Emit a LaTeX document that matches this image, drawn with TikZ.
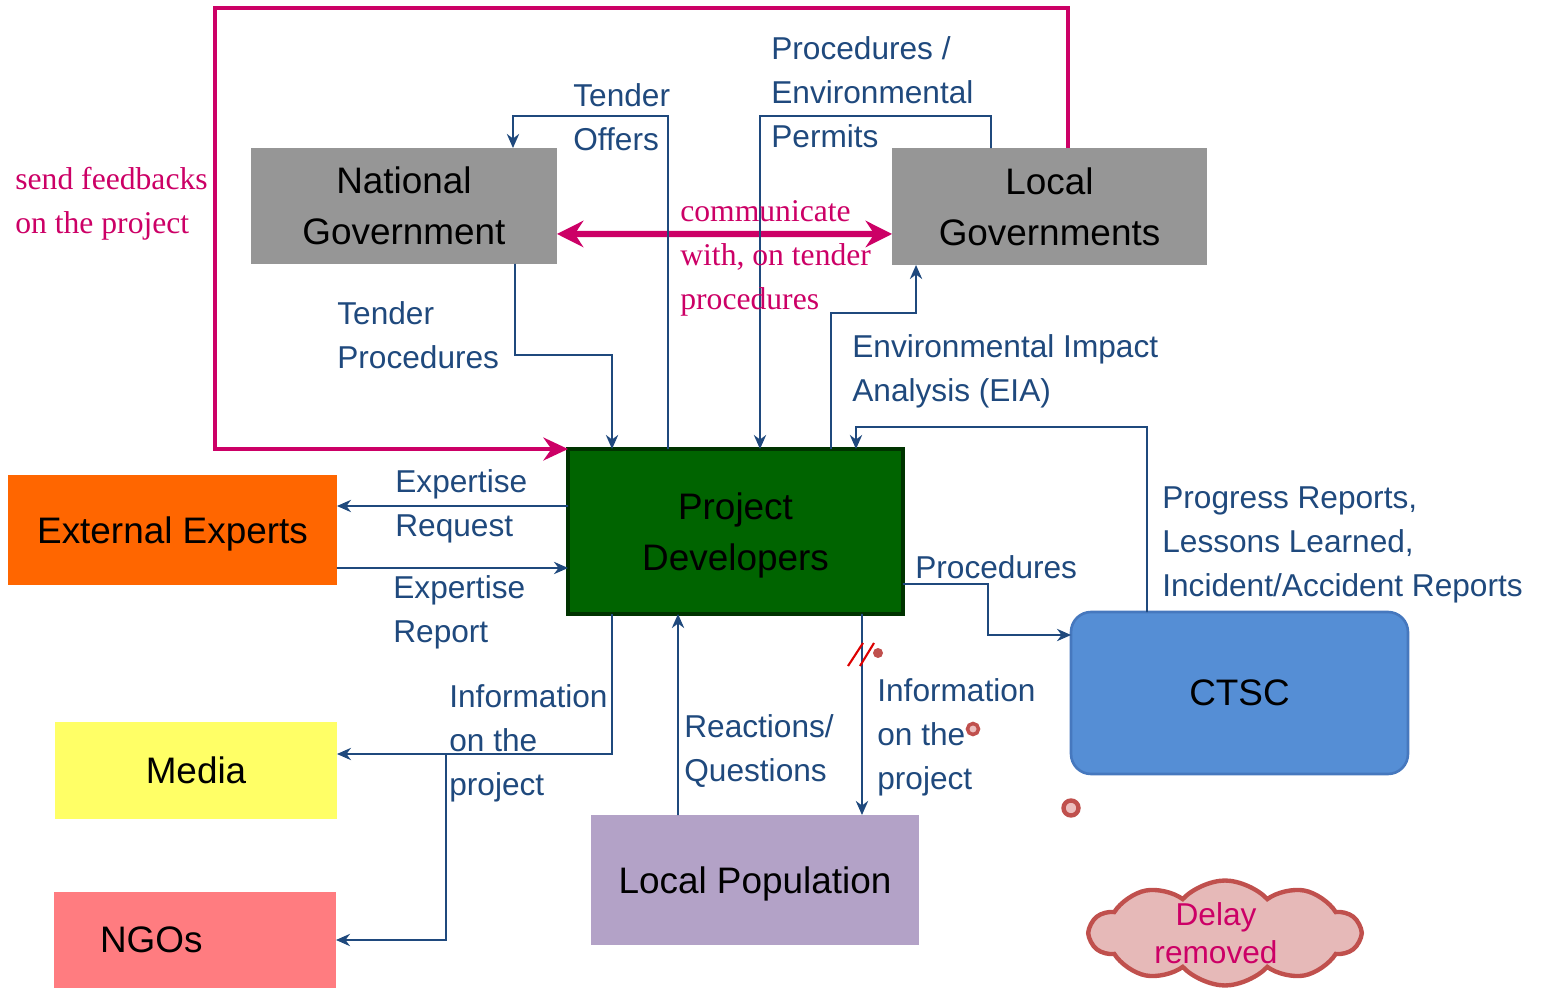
\documentclass[tikz,border=0pt]{standalone}
\usepackage{fontspec}
\setmainfont{Liberation Sans}
\newfontfamily\serifred{Liberation Serif}
\usepackage{tikz}
\usetikzlibrary{arrows.meta,shapes.symbols}

\definecolor{lineblue}{RGB}{31,73,125}
\definecolor{fbred}{RGB}{204,0,102}
\definecolor{govgray}{RGB}{150,150,150}
\definecolor{pdgreen}{RGB}{0,100,0}
\definecolor{pdedge}{RGB}{0,51,0}
\definecolor{eeorange}{RGB}{255,102,0}
\definecolor{mediayellow}{RGB}{255,255,102}
\definecolor{ngopink}{RGB}{255,124,128}
\definecolor{lplilac}{RGB}{179,162,199}
\definecolor{ctscblue}{RGB}{85,142,213}
\definecolor{ctscedge}{RGB}{70,120,190}
\definecolor{cloudfill}{RGB}{230,185,184}
\definecolor{cloudedge}{RGB}{192,80,77}
\definecolor{markred}{RGB}{220,0,0}
\definecolor{ringfill}{RGB}{236,190,190}

\tikzset{
	box/.style={rectangle, inner sep=0pt, outer sep=0pt, text depth=0pt, align=center, font=\fontsize{21}{29}\selectfont},
	flow/.style={draw=lineblue, line width=1.1pt, -{Stealth[length=8pt,width=7pt]}},
	fb/.style={draw=fbred, line width=2.8pt},
	lbl/.style={anchor=west, inner sep=0pt, yshift=-0.06cm, align=left, text=lineblue, font=\fontsize{18}{25}\selectfont},
	redlbl/.style={anchor=west, inner sep=0pt, yshift=-0.07cm, align=left, text=fbred, font=\serifred\fontsize{18}{25}\selectfont}
}

\begin{document}
\begin{tikzpicture}[x=0.02cm, y=-0.02cm]
	\useasboundingbox (0,0) rectangle (1542,989);

	% Boxes
	\node[box, fill=govgray, minimum width=6.12cm, minimum height=2.32cm] (ng) at (404,206) {National\\Government};
	\node[box, fill=govgray, minimum width=6.3cm, minimum height=2.34cm] (lg) at (1049.5,206.5) {Local\\Governments};
	\node[box, fill=pdgreen, draw=pdedge, line width=2pt, minimum width=6.7cm, minimum height=3.3cm] (pd) at (735.5,531.5) {Project\\Developers};
	\node[box, fill=eeorange, minimum width=6.58cm, minimum height=2.2cm] (ee) at (172.5,530) {External Experts};
	\node[box, fill=mediayellow, minimum width=5.64cm, minimum height=1.94cm] (media) at (196,770.5) {Media};
	\node[box, fill=ngopink, minimum height=1.92cm, text width=3.8cm, inner xsep=0.92cm, align=left] (ngo) at (195,940) {NGOs};
	\node[box, fill=lplilac, minimum width=6.56cm, minimum height=2.6cm] (lp) at (755,880) {Local Population};
	\node[box, fill=ctscblue, draw=ctscedge, line width=1.5pt, rounded corners=0.4cm, minimum width=6.74cm, minimum height=3.24cm] (ctsc) at (1239.5,693) {CTSC};

	% Feedback loop and communication
	\draw[fb, -{Stealth[length=14pt,width=13pt]}] ([xshift=3.52cm]lg.north west) |- (215,8) |- (pd.north west);
	\draw[fb, line width=3.5pt, {Stealth[length=15pt,width=15pt]}-{Stealth[length=15pt,width=15pt]}] ([yshift=-0.56cm]ng.east) -- ([yshift=-0.55cm]lg.west);

	% Flows
	\draw[flow] ([xshift=2cm]pd.north west) |- (513,116) -- ([xshift=5.24cm]ng.north west);
	\draw[flow] ([xshift=1.98cm]lg.north west) |- (760,116) -- ([xshift=3.84cm]pd.north west);
	\draw[flow] ([xshift=5.28cm]ng.south west) |- (612,355) -- ([xshift=0.88cm]pd.north west);
	\draw[flow] ([xshift=5.26cm]pd.north west) |- (916,313) -- ([xshift=0.48cm]lg.south west);
	\draw[flow] ([xshift=1.52cm]ctsc.north west) |- (856,427) -- ([xshift=5.76cm]pd.north west);
	\draw[flow] ([yshift=0.51cm]pd.west) -- ([yshift=0.48cm]ee.east);
	\draw[flow] ([yshift=-0.76cm]ee.east) -- ([yshift=-0.73cm]pd.west);
	\draw[flow] ([yshift=-1.05cm]pd.east) -| (988,635) -- ([yshift=1.16cm]ctsc.west);
	\draw[flow] ([xshift=0.88cm]pd.south west) |- ([yshift=0.33cm]media.east);
	\coordinate (split) at (446,754);
	\draw[flow] (split) |- (ngo.east);
	\draw[flow] ([xshift=1.74cm]lp.north west) -- ([xshift=2.2cm]pd.south west);
	\draw[flow] ([xshift=5.88cm]pd.south west) -- ([xshift=5.42cm]lp.north west);

	% Labels
	\node[lbl] (offers) at (573,114) {Tender\\Offers};
	\node[lbl] (permits) at (771,89.5) {Procedures /\\Environmental\\Permits};
	\node[lbl] (tproc) at (337,332) {Tender\\Procedures};
	\node[lbl] (eia) at (852,368) {Environmental Impact\\Analysis (EIA)};
	\node[lbl] (reports) at (1162,542) {Progress Reports,\\Lessons Learned,\\Incident/Accident Reports};
	\node[lbl] (request) at (395,503) {Expertise\\Request};
	\node[lbl] (report) at (393,609) {Expertise\\Report};
	\node[lbl] (procs) at (915,564) {Procedures};
	\node[lbl] (infomedia) at (449,740) {Information\\on the\\project};
	\node[lbl] (reactions) at (684,748) {Reactions/\\Questions};
	\node[lbl] (infolp) at (877,734) {Information\\on the\\project};
	\node[redlbl] (feedback) at (15,200) {send feedbacks\\on the project};
	\node[redlbl] (communicate) at (680,255) {communicate\\with, on tender\\procedures};

	% Edit marks
	\draw[markred, line width=1.2pt] (848,666) -- (863,643);
	\draw[markred, line width=1.2pt] (860,666) -- (874,643);
	\fill[cloudedge] (878,653) circle (0.1cm);
	\draw[cloudedge, line width=2pt, fill=ringfill] (973,729) circle (0.11cm);
	\draw[cloudedge, line width=2.5pt, fill=ringfill] (1071,808) circle (0.15cm);

	% Cloud
	\node[cloud, cloud puffs=10, cloud puff arc=95, aspect=2.5, draw=cloudedge, line width=2.5pt, fill=cloudfill, minimum width=5.4cm, minimum height=2.1cm, inner sep=0pt,
		label={[text=fbred, align=center, font=\fontsize{18}{21.5}\selectfont, xshift=-0.18cm]center:Delay\\removed}] (delay) at (1225,933) {};

\end{tikzpicture}
\end{document}
